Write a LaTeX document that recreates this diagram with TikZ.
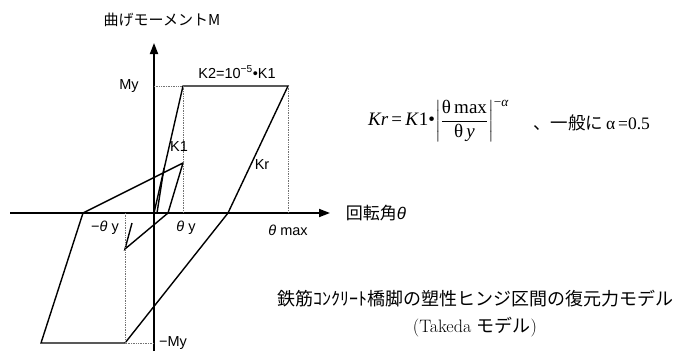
\documentclass[tikz,border=0pt]{standalone}
\usepackage{amsmath}
\usepackage{fontspec}
\setsansfont{Liberation Sans}
\newfontfamily\jpsans{Noto Sans CJK JP}
\newfontfamily\tms{Liberation Serif}
\usepackage{tikz}
\usetikzlibrary{positioning,arrows.meta,calc}

\begin{document}
\begin{tikzpicture}[
    x=1pt, y=-1pt,
    axis/.style={line width=1.8pt, -{Triangle[length=11pt,width=8pt]}},
    curve/.style={line width=1.4pt, line join=miter},
    guide/.style={densely dotted, line width=0.7pt, black!55},
    lbl/.style={inner sep=0pt, font=\sffamily\fontsize{14.5}{16}\selectfont},
    jplbl/.style={inner sep=0pt, font=\jpsans\fontsize{15}{18}\selectfont},
    caption/.style={inner sep=0pt, font=\jpsans\fontsize{18}{22}\selectfont},
]
\useasboundingbox (0,0) rectangle (677,351);

% Axes
\coordinate (O) at (154,213);
\coordinate (Xl) at (10,213);
\coordinate (Xr) at (330,213);
\coordinate (Yb) at (154,351);
\coordinate (Yt) at (154,43);
\draw[axis] (Xl) -- (Xr);
\draw[axis] (Yb) -- (Yt);

% Hysteresis loop
\coordinate (Y) at (183,86);
\coordinate (Mx) at (288,86);
\coordinate (R1) at (228,213);
\coordinate (N) at (125,343);
\coordinate (L) at (41,343);
\coordinate (R2) at (83,213);
\coordinate (P) at (183,163);
\coordinate (Q) at (168,213);
\coordinate (S) at (125,249);
\coordinate (T) at (132,223);
\coordinate (U) at (157,213);
\coordinate (V) at (164,168);
\draw[curve] (O) -- (Y) -- (Mx) -- (R1) -- (N) -- (L) -- (R2) -- (P) -- (Q) -- (S) -- (T);
\draw[curve] (U) -- (V);

% Guides
\draw[guide] (O |- Y) -- (Y) -- (Y |- O);
\draw[guide] (Mx) -- (Mx |- O);
\draw[guide] (N |- O) -- (N) -- (O |- N);

% Labels on the plot
\node[lbl] (my) at (129,86) {My};
\node[lbl] (k2) at (237,72) {K2=10\textsuperscript{−5}•K1};
\node[lbl] (k1) at (179,147) {K1};
\node[lbl] (kr) at (262,165) {Kr};
\node[lbl] (nthy) at (105,228) {−\textit{θ} y};
\node[lbl] (thy) at (186,228) {\textit{θ} y};
\node[lbl] (thmax) at (288,230) {\textit{θ} max};
\node[lbl] (nmy) at (173,343) {−My};

% Axis titles
\node[jplbl] (mtitle) at (162,20) {曲げモーメントM};
\node[jplbl, font=\jpsans\fontsize{17}{20}\selectfont] (rtitle) at (376,213) {回転角{\sffamily\itshape θ}};

% Formula
\node[inner sep=0pt, anchor=west] (kform) at (368,121) {\tms\fontsize{19}{22}\selectfont
    \textit{Kr}\,=\,\textit{K}1•$\left|\dfrac{\text{θ\,max}}{\text{θ\,\textit{y}}}\right|^{\text{−\textit{α}}}$};
\node[inner sep=0pt, anchor=west] (kremark) at (533,123) {\fontsize{17.5}{20}\selectfont{\jpsans 、一般に}\,{\tms α\,=0.5}};

% Caption
\node[caption] (cap1) at (475,299) {鉄筋ｺﾝｸﾘｰﾄ橋脚の塑性ヒンジ区間の復元力モデル};
\node[caption, below=9pt of cap1] (cap2) {{\rmfamily (Takeda }モデル{\rmfamily )}};

\end{tikzpicture}
\end{document}
